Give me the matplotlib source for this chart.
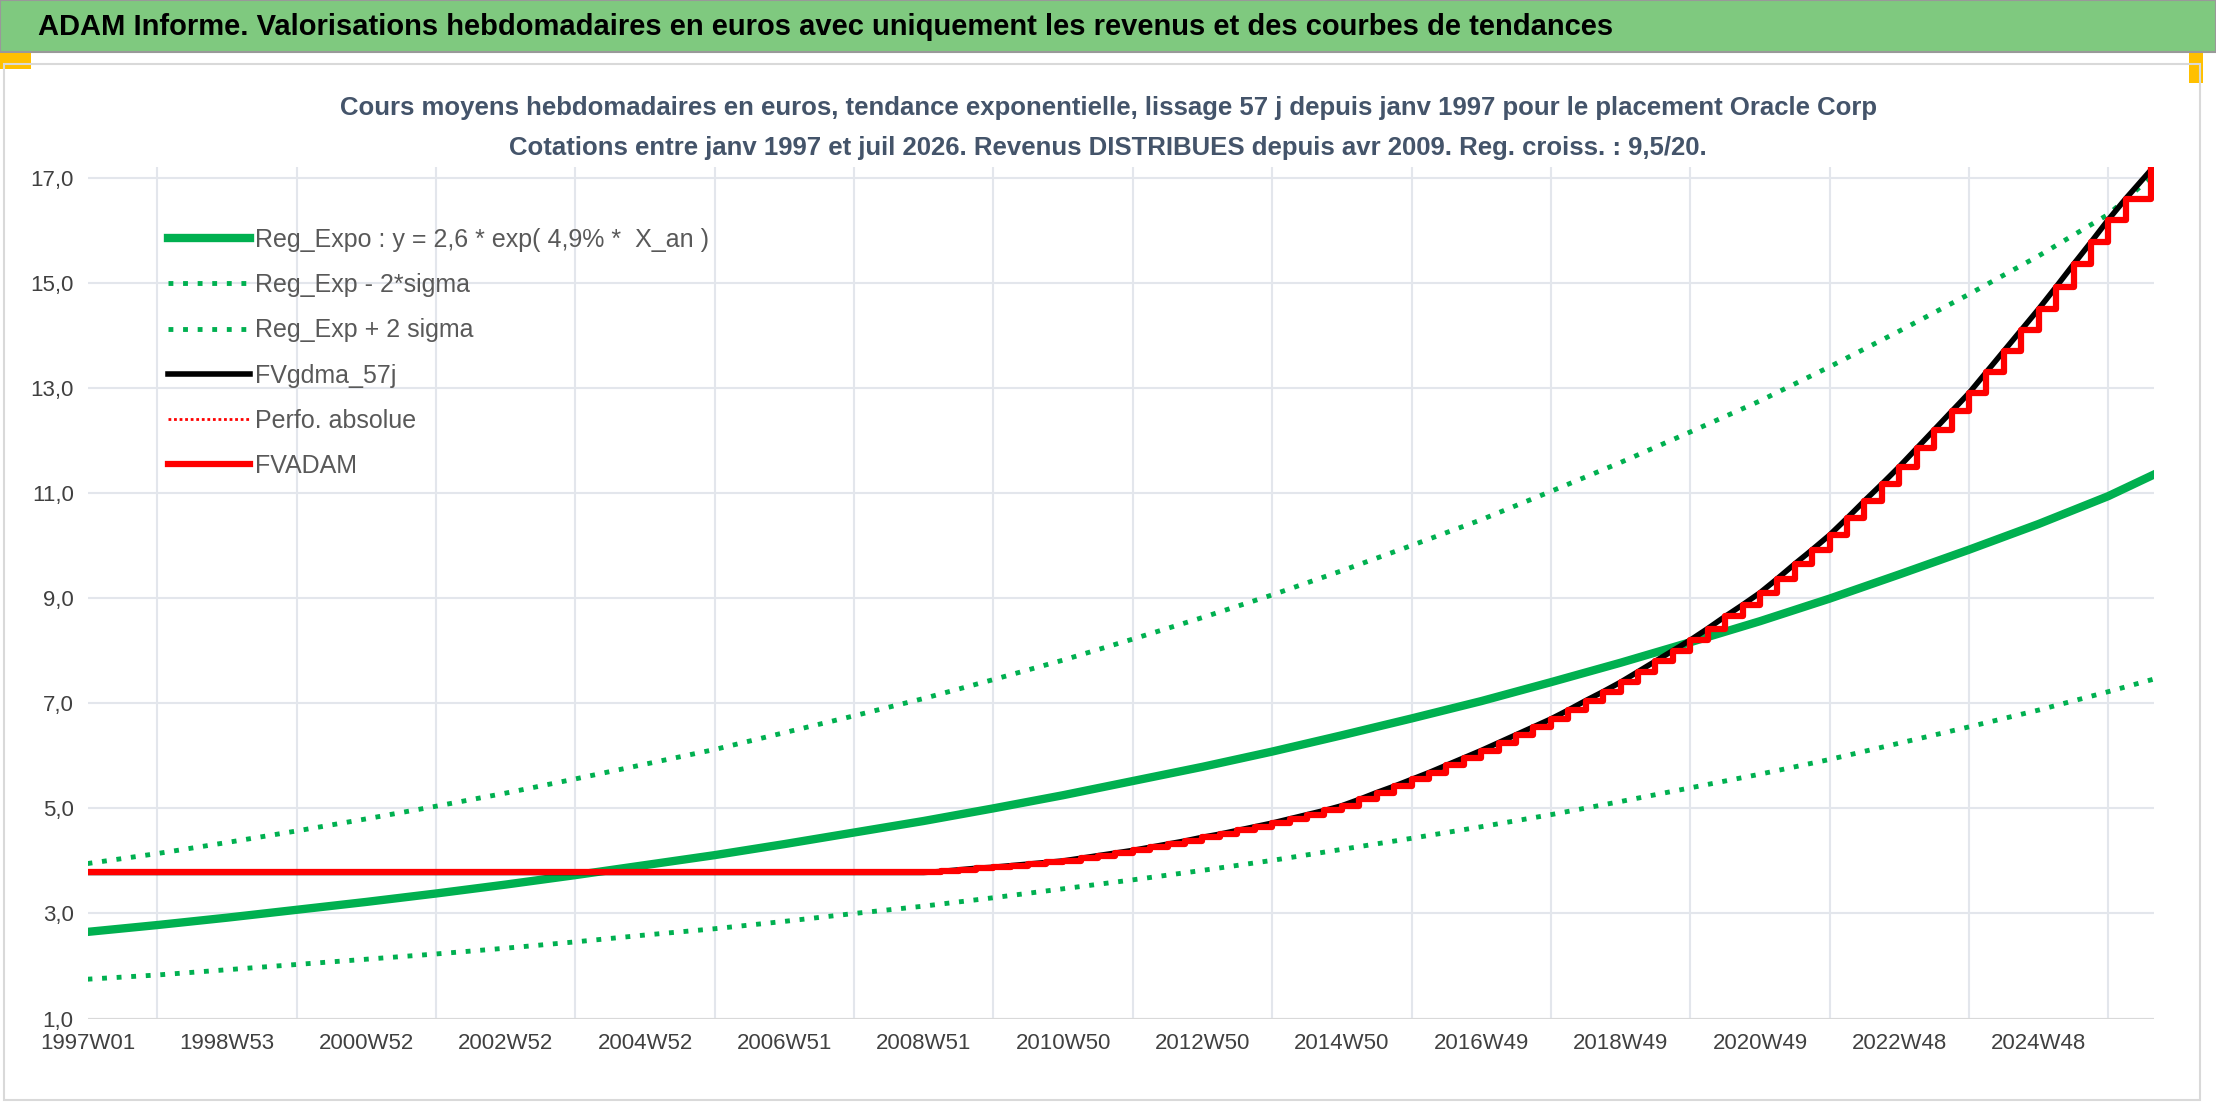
import matplotlib
matplotlib.use('Agg')
import matplotlib.pyplot as plt
from matplotlib.patches import Rectangle

plt.rcParams['font.family'] = ['Liberation Sans', 'DejaVu Sans']

# ---- données ----
TICK_WEEKS = [0, 104, 208, 312, 416, 520, 624, 728, 832, 936, 1040, 1144, 1248, 1352, 1456]
TICK_LABELS = ['1997W01', '1998W53', '2000W52', '2002W52', '2004W52', '2006W51', '2008W51',
               '2010W50', '2012W50', '2014W50', '2016W49', '2018W49', '2020W49', '2022W48', '2024W48']

# une valeur par an (52 semaines) + dernière semaine
REG_WEEKS = [52 * i for i in range(30)] + [1542]
REG_EXPO = [2.65, 2.78, 2.92, 3.07, 3.22, 3.38, 3.55, 3.73, 3.92, 4.11, 4.32, 4.54, 4.76, 5.00, 5.25,
            5.52, 5.79, 6.08, 6.39, 6.71, 7.04, 7.40, 7.77, 8.16, 8.56, 8.99, 9.45, 9.92, 10.41, 10.94, 11.35]
REG_UP = [3.95, 4.14, 4.35, 4.57, 4.80, 5.04, 5.29, 5.56, 5.84, 6.12, 6.44, 6.76, 7.09, 7.45, 7.82,
          8.22, 8.63, 9.06, 9.52, 10.00, 10.49, 11.03, 11.58, 12.16, 12.75, 13.40, 14.08, 14.78, 15.51, 16.30, 17.05]
REG_LOW = [1.75, 1.83, 1.93, 2.03, 2.13, 2.23, 2.34, 2.46, 2.59, 2.71, 2.85, 3.00, 3.14, 3.30, 3.47,
           3.64, 3.82, 4.01, 4.22, 4.43, 4.65, 4.88, 5.13, 5.39, 5.65, 5.93, 6.24, 6.55, 6.87, 7.22, 7.46]

# FVADAM : plat jusqu'à fin 2008 puis paliers trimestriels
FV_FLAT = 3.78
FV_START = 624
FV_QUARTERS = [3.78, 3.80, 3.83, 3.86, 3.88, 3.91, 3.94, 3.97,
               4.00, 4.05, 4.10, 4.15, 4.20, 4.26, 4.32, 4.38,
               4.45, 4.51, 4.58, 4.65, 4.72, 4.80, 4.88, 4.96,
               5.05, 5.17, 5.30, 5.42, 5.55, 5.68, 5.82, 5.96,
               6.10, 6.25, 6.40, 6.55, 6.70, 6.87, 7.05, 7.22,
               7.40, 7.60, 7.80, 8.00, 8.20, 8.42, 8.65, 8.87,
               9.10, 9.37, 9.65, 9.92, 10.20, 10.52, 10.85, 11.17,
               11.50, 11.85, 12.20, 12.55, 12.90, 13.30, 13.70, 14.10,
               14.50, 14.92, 15.35, 15.77, 16.20, 16.60, 17.15]

GREEN = '#00B050'
fig = plt.figure(figsize=(22.16, 11.06), dpi=100)

# bandeau titre
fig.patches.append(Rectangle((0, 0.953), 1, 0.047, transform=fig.transFigure,
                             facecolor='#7FC97F', edgecolor='#999999', lw=1.5))
fig.text(0.017, 0.976, 'ADAM Informe. Valorisations hebdomadaires en euros avec uniquement les revenus et des courbes de tendances',
         fontsize=21, fontweight='bold', va='center', ha='left')
fig.patches.append(Rectangle((0.0, 0.938), 0.014, 0.014, transform=fig.transFigure,
                             facecolor='#FFC000', edgecolor='none'))
fig.patches.append(Rectangle((0.988, 0.925), 0.006, 0.027, transform=fig.transFigure,
                             facecolor='#FFC000', edgecolor='none'))
fig.patches.append(Rectangle((0.002, 0.005), 0.991, 0.937, transform=fig.transFigure,
                             facecolor='none', edgecolor='#D9D9D9', lw=1.5))

fig.text(0.5, 0.902, 'Cours moyens hebdomadaires en euros, tendance exponentielle, lissage 57 j depuis janv 1997 pour le placement Oracle Corp',
         fontsize=18.5, fontweight='bold', color='#44546A', ha='center', va='center')
fig.text(0.5, 0.866, 'Cotations entre janv 1997 et juil 2026. Revenus DISTRIBUES depuis avr 2009. Reg. croiss. : 9,5/20.',
         fontsize=18.5, fontweight='bold', color='#44546A', ha='center', va='center')

ax = fig.add_axes([0.0395, 0.079, 0.9325, 0.77])

fv_x = [0, FV_START] + [FV_START + 13 * (i + 1) for i in range(len(FV_QUARTERS) - 1)]
fv_y = [FV_FLAT] + FV_QUARTERS
fv_x[-1] = 1540

ax.plot(REG_WEEKS, REG_EXPO, color=GREEN, lw=6, label='Reg_Expo : y = 2,6 * exp( 4,9% *  X_an )')
ax.plot(REG_WEEKS, REG_LOW, color=GREEN, lw=3.5, ls=(0, (1, 2)), label='Reg_Exp - 2*sigma')
ax.plot(REG_WEEKS, REG_UP, color=GREEN, lw=3.5, ls=(0, (1, 2)), label='Reg_Exp + 2 sigma')
ax.plot(fv_x, fv_y, color='black', lw=4, label='FVgdma_57j')
ax.plot([], [], color='red', lw=2, ls=(0, (1, 1)), label='Perfo. absolue')
ax.plot(fv_x, fv_y, color='red', lw=4.5, drawstyle='steps-post', label='FVADAM')

ax.set_xlim(0, 1542)
ax.set_ylim(1, 17.2)
ax.set_yticks([1, 3, 5, 7, 9, 11, 13, 15, 17])
ax.set_yticklabels([f'{v},0' for v in [1, 3, 5, 7, 9, 11, 13, 15, 17]])
ax.set_xticks(TICK_WEEKS)
ax.set_xticklabels(TICK_LABELS)
ax.set_xticks(list(range(0, 1542, 52)), minor=True)
ax.tick_params(axis='both', which='both', length=0, labelsize=16, colors='#404040', pad=10)
ax.grid(which='minor', axis='x', color='#E3E6EC', lw=1.5)
ax.grid(which='major', axis='y', color='#E3E6EC', lw=1.5)
for s in ax.spines.values():
    s.set_visible(False)
ax.axhline(1, color='#D9D9D9', lw=1.5)

leg = ax.legend(loc='upper left', bbox_to_anchor=(0.028, 0.955), frameon=False, fontsize=18,
                handlelength=3.3, labelspacing=0.85, handletextpad=0.2)
for t in leg.get_texts():
    t.set_color('#595959')

fig.savefig('out.png', dpi=100)
